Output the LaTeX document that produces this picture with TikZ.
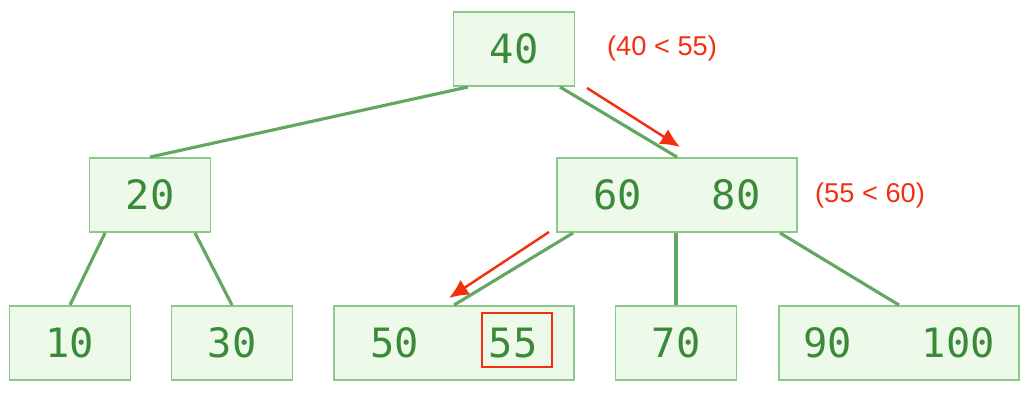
\documentclass[tikz,border=0pt]{standalone}
\usepackage{fontspec}
\setmonofont{DejaVu Sans Mono}
\newfontfamily\redfont{Liberation Sans}
\usetikzlibrary{arrows.meta}
\definecolor{keyfill}{HTML}{EDFAEA}
\definecolor{keyline}{HTML}{8DC88B}
\definecolor{keytext}{HTML}{3A8A3A}
\definecolor{edgecol}{HTML}{62A862}
\definecolor{hilite}{HTML}{F2300F}
\begin{document}
\begin{tikzpicture}[x=0.02cm,y=-0.02cm,
    bnode/.style={draw=keyline,fill=keyfill,line width=1.1pt,minimum width=2.42cm,
      minimum height=1.48cm,inner sep=0pt,text=keytext,font=\ttfamily\fontsize{23}{23}\selectfont},
    wnode/.style={bnode,minimum width=4.8cm},
    tedge/.style={draw=edgecol,line width=1.8pt},
    path/.style={draw=hilite,line width=1.4pt,-{Latex[length=11pt,width=10pt]}},
    why/.style={text=hilite,font=\redfont\fontsize{15.5}{15.5}\selectfont}]
      \useasboundingbox (0,0) rectangle (1030,400);
      \node[bnode] (n40) at (514,49) {40}; \node[bnode] (n20) at (150,195) {20};
      \node[wnode] (n6080) at (677,195) {60\hspace{1.4cm}80};
      \node[bnode] (n10) at (70,343) {10}; \node[bnode] (n30) at (232,343) {30};
      \node[wnode] (n5055) at (454,343) {50\hspace{1.4cm}55};
      \node[bnode] (n70) at (676,343) {70};
      \node[wnode] (n90100) at (899,343) {90\hspace{1.4cm}100};
      % search hit
      \node[draw=hilite,line width=1.2pt,minimum width=1.4cm,minimum height=1.08cm]
      (hit) at (517,340) {};
      \draw[tedge] ([xshift=-0.92cm]n40.south) -- (n20.north);
      \draw[tedge] ([xshift=0.92cm]n40.south) -- (n6080.north);
      \draw[tedge] ([xshift=-0.9cm]n20.south) -- (n10.north);
      \draw[tedge] ([xshift=0.9cm]n20.south) -- (n30.north);
      \draw[tedge] ([xshift=-2.08cm]n6080.south) -- (n5055.north);
      \draw[tedge] (n6080.south -| n70.north) -- (n70.north);
      \draw[tedge] ([xshift=2.06cm]n6080.south) -- (n90100.north);
      \coordinate (a1s) at (587,88); \coordinate (a1e) at (680,147);
      \coordinate (a2s) at (549,232); \coordinate (a2e) at (449,298);
      \draw[path] (a1s) -- (a1e); \draw[path] (a2s) -- (a2e);
      \node[why] (q1) at (662,48) {(40 < 55)};
      \node[why] (q2) at (870,195) {(55 < 60)};
\end{tikzpicture}
\end{document}
